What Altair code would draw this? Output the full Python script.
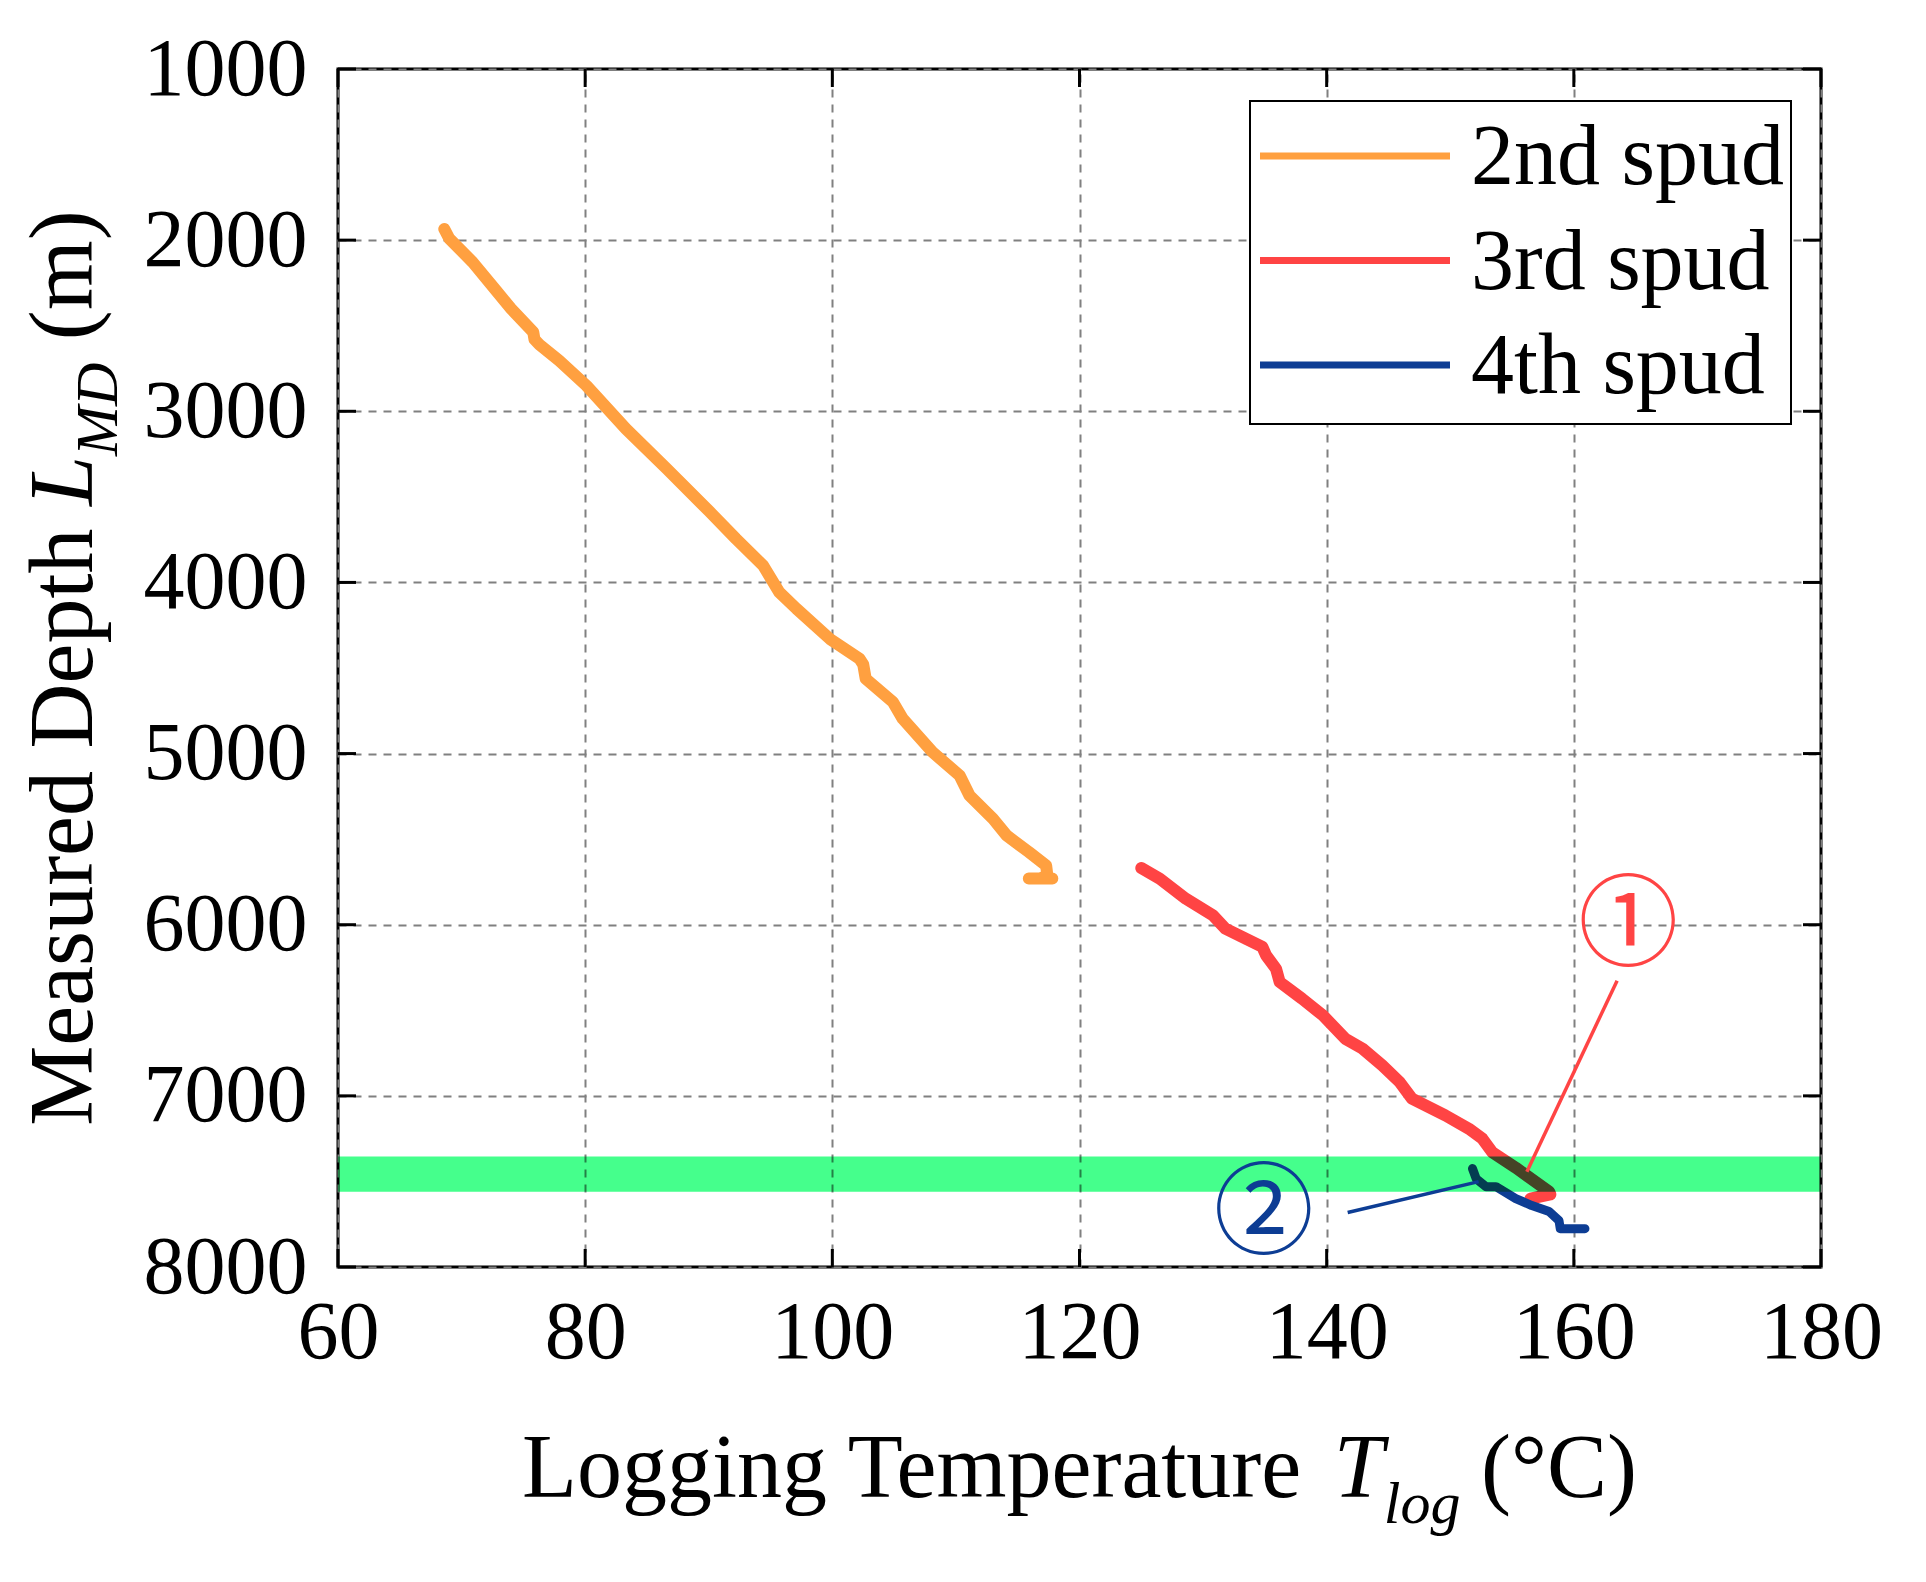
import altair as alt
import pandas as pd

# ---------------- data ----------------
t_2nd = [68.6, 69.0, 70.9, 72.8, 74.0, 75.8, 75.9, 76.3, 77.9, 80.1, 83.3, 86.6, 90.1, 92.2,
         94.4, 95.7, 97.1, 99.8, 102.2, 102.5, 102.7, 104.9, 105.7, 108.1, 110.3, 111.1,
         113.0, 114.1, 115.9, 117.3, 117.4, 116.8, 115.9, 117.8]
d_2nd = [1935, 1990, 2129, 2295, 2400, 2538, 2580, 2610, 2704, 2850, 3103, 3336, 3589, 3745,
         3901, 4057, 4154, 4330, 4446, 4480, 4563, 4699, 4797, 4991, 5128, 5245,
         5381, 5478, 5575, 5654, 5712, 5730, 5730, 5730]

t_3rd = [125.0, 126.5, 128.6, 130.8, 131.8, 134.8, 135.1, 135.9, 136.2, 138.0, 139.7, 141.5,
         142.9, 144.5, 145.9, 146.9, 149.6, 151.5, 152.6, 153.4, 155.3, 158.0, 158.1, 156.5]
d_3rd = [5669, 5731, 5848, 5946, 6023, 6130, 6179, 6257, 6335, 6432, 6530, 6666,
         6724, 6822, 6919, 7016, 7114, 7192, 7250, 7330, 7420, 7559, 7576, 7600]

t_4th = [151.8, 152.1, 152.9, 153.7, 155.3, 156.6, 158.0, 158.8, 158.9, 160.9]
d_4th = [7425, 7484, 7531, 7531, 7600, 7641, 7676, 7729, 7776, 7776]

series_names = ["2nd spud", "3rd spud", "4th spud"]
series_colors = ["#FFA040", "#FF4444", "#0D3D94"]

band_depth = [7355, 7560]

ann1_t = [163.5, 156.2]
ann1_d = [6327, 7443]
ann2_t = [141.7, 152.3]
ann2_d = [7682, 7501]
marker_labels = ["\u2460", "\u2461"]
marker_t = [164.4, 134.9]
marker_d = [6020, 7700]

x_ticks = [60, 80, 100, 120, 140, 160, 180]
y_ticks = [1000, 2000, 3000, 4000, 5000, 6000, 7000, 8000]

# ---------------- layout ----------------
W, H = 1483, 1198
SERIF = "Liberation Serif"
TICK_FS = 82
TITLE_FS = 90
SUB_FS = 60

xs = alt.Scale(domain=[60, 180], nice=False, zero=False)
ys = alt.Scale(domain=[1000, 8000], nice=False, zero=False, reverse=True)

x_axis = alt.Axis(values=x_ticks, title=None, grid=True, gridDash=[8, 7], gridColor="#808080",
                  gridWidth=2, domain=False, ticks=False, tickSize=0, labelFont=SERIF,
                  labelFontSize=TICK_FS, labelColor="black", labelPadding=25,
                  labelFlush=False, labelOverlap=False, labelBound=False)
y_axis = alt.Axis(values=y_ticks, title=None, grid=True, gridDash=[8, 7], gridColor="#808080",
                  gridWidth=2, domain=False, ticks=False, tickSize=0, labelFont=SERIF,
                  labelFontSize=TICK_FS, labelColor="black", labelPadding=31, format="d",
                  labelFlush=False, labelOverlap=False, labelBound=False)


def series_df(t, d):
    return pd.DataFrame({"T": t, "D": d, "i": list(range(len(t)))})


base_grid = alt.Chart(pd.DataFrame({"T": [60], "D": [1000]})).mark_point(opacity=0).encode(
    x=alt.X("T:Q", scale=xs, axis=x_axis),
    y=alt.Y("D:Q", scale=ys, axis=y_axis),
)

layers = [base_grid]
widths = [12, 12, 9]
for (t, d), col, sw in zip([(t_2nd, d_2nd), (t_3rd, d_3rd), (t_4th, d_4th)], series_colors, widths):
    layers.append(
        alt.Chart(series_df(t, d)).mark_line(color=col, strokeWidth=sw, strokeCap="round",
                                             strokeJoin="round").encode(
            x=alt.X("T:Q", scale=xs), y=alt.Y("D:Q", scale=ys), order="i:Q")
    )

# green band (multiply blend so the curves show through)
layers.append(
    alt.Chart(pd.DataFrame({"d1": [band_depth[0]], "d2": [band_depth[1]]})).mark_rect(
        color="#45FF8C", blend="multiply").encode(
        x=alt.value(0), x2=alt.value(W), y=alt.Y("d1:Q", scale=ys), y2="d2:Q")
)

# annotation pointers
for t, d, col in [(ann1_t, ann1_d, "#FF4444"), (ann2_t, ann2_d, "#0D3D94")]:
    layers.append(
        alt.Chart(series_df(t, d)).mark_line(color=col, strokeWidth=3.5).encode(
            x=alt.X("T:Q", scale=xs), y=alt.Y("D:Q", scale=ys), order="i:Q")
    )
for lab, t, d, col in zip(marker_labels, marker_t, marker_d, ["#FF4444", "#0D3D94"]):
    layers.append(
        alt.Chart(pd.DataFrame({"T": [t], "D": [d], "lab": [lab]})).mark_text(
            font="Noto Sans CJK SC", fontSize=100, color=col, align="center",
            baseline="middle").encode(
            x=alt.X("T:Q", scale=xs), y=alt.Y("D:Q", scale=ys), text="lab:N")
    )

# inward ticks on all four sides
TL = 18
xt = pd.DataFrame({"T": x_ticks})
yt = pd.DataFrame({"D": y_ticks})
layers.append(alt.Chart(xt).mark_rule(color="black", strokeWidth=3).encode(
    x=alt.X("T:Q", scale=xs), y=alt.value(H), y2=alt.value(H - TL)))
layers.append(alt.Chart(xt).mark_rule(color="black", strokeWidth=3).encode(
    x=alt.X("T:Q", scale=xs), y=alt.value(0), y2=alt.value(TL)))
layers.append(alt.Chart(yt).mark_rule(color="black", strokeWidth=3).encode(
    y=alt.Y("D:Q", scale=ys), x=alt.value(0), x2=alt.value(TL)))
layers.append(alt.Chart(yt).mark_rule(color="black", strokeWidth=3).encode(
    y=alt.Y("D:Q", scale=ys), x=alt.value(W), x2=alt.value(W - TL)))

# ---------------- legend (drawn by hand) ----------------
one = pd.DataFrame({"k": [0]})
LX0, LX1, LY0, LY1 = 912, 1453, 32, 355
layers.append(alt.Chart(one).mark_rect(fill="white", stroke="black", strokeWidth=2).encode(
    x=alt.value(LX0), x2=alt.value(LX1), y=alt.value(LY0), y2=alt.value(LY1)))
for k, (name, col) in enumerate(zip(series_names, series_colors)):
    ly = 87 + k * 104.5
    layers.append(alt.Chart(one).mark_rule(color=col, strokeWidth=7).encode(
        x=alt.value(922), x2=alt.value(1112), y=alt.value(ly)))
    layers.append(alt.Chart(one).mark_text(text=name, font=SERIF, fontSize=86, color="black",
                                           align="left", baseline="alphabetic").encode(
        x=alt.value(1133), y=alt.value(ly + 28)))

# ---------------- axis titles with italic symbol + subscript ----------------
REG = {"L": .611, "o": .5, "g": .5, "i": .278, "n": .5, " ": .25, "T": .611, "e": .444,
       "m": .778, "p": .5, "r": .333, "a": .444, "t": .278, "u": .5, "M": .889, "s": .389,
       "d": .5, "D": .722, "h": .5, "(": .333, ")": .333, "\u00b0": .4, "C": .667}
ITA = {"T": .556, "l": .278, "o": .5, "g": .5, "L": .556, "M": .833, "D": .722}


def tw(s, table, fs):
    return sum(table[c] for c in s) * fs


def title_pieces(parts):
    # parts: (text, italic, size, baseline shift, extra offset)
    out, pos = [], 0.0
    for txt, ital, fs, shift, extra in parts:
        out.append((txt, ital, fs, shift, pos + extra))
        pos += tw(txt, ITA if ital else REG, fs)
    return out, pos


xparts = [("Logging Temperature", False, TITLE_FS, 0, 0), (" ", False, TITLE_FS, 0, 0),
          ("T", True, TITLE_FS, 0, 2), ("log", True, SUB_FS, 26, 2),
          (" ", False, TITLE_FS, 0, 0), ("(\u00b0C)", False, TITLE_FS, 0, 0)]
pieces, total = title_pieces(xparts)
x_start = W / 2 - total / 2
X_BASE = 1428
for txt, ital, fs, shift, pos in pieces:
    if txt.strip() == "":
        continue
    layers.append(alt.Chart(one).mark_text(
        text=txt, font=SERIF, fontSize=fs, fontStyle="italic" if ital else "normal",
        color="black", align="left", baseline="alphabetic").encode(
        x=alt.value(x_start + pos), y=alt.value(X_BASE + shift)))

yparts = [("Measured Depth", False, TITLE_FS, 0, 0), (" ", False, TITLE_FS, 0, 0),
          ("L", True, TITLE_FS, 0, 0), ("MD", True, SUB_FS, 25, 0),
          (" ", False, TITLE_FS, 0, 0), ("(m)", False, TITLE_FS, 0, 0)]
pieces, total = title_pieces(yparts)
y_start = H / 2 + total / 2
Y_BASE = -246
for txt, ital, fs, shift, pos in pieces:
    if txt.strip() == "":
        continue
    layers.append(alt.Chart(one).mark_text(
        text=txt, font=SERIF, fontSize=fs, fontStyle="italic" if ital else "normal",
        color="black", align="left", baseline="alphabetic", angle=270).encode(
        x=alt.value(Y_BASE + shift), y=alt.value(y_start - pos)))

chart = alt.layer(*layers).properties(
    width=W, height=H,
    padding={"left": 330, "top": 61, "right": 90, "bottom": 300},
    autosize=alt.AutoSizeParams(type="none"),
    background="white",
).configure_view(stroke="black", strokeWidth=3)

chart.save("out.html", embed_options={"renderer": "svg", "actions": False})
